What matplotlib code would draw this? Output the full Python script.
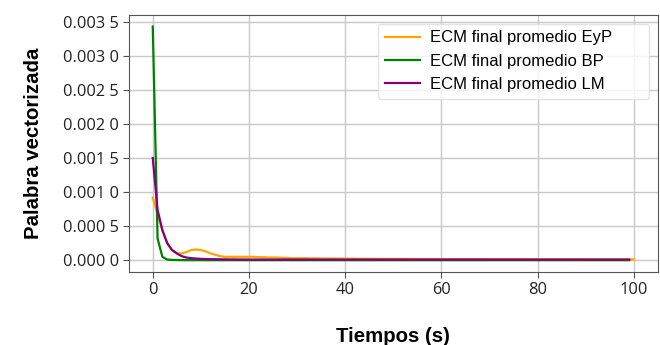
import numpy as np
import matplotlib
matplotlib.use('Agg')
import matplotlib.pyplot as plt
from matplotlib.ticker import FuncFormatter

# tiempo (s)
t_eyp = np.arange(0, 101)
t_bp = np.arange(0, 100)
t_lm = np.arange(0, 100)

# ECM promedio, valores
ecm_eyp = [
    0.00092, 0.00068, 0.00044, 0.00026, 0.00015, 0.00010, 0.00010, 0.00012, 0.00015, 0.000157,
    0.00015, 0.00013, 0.00010, 0.00008, 0.00006, 0.00005, 0.00005, 0.00005, 0.00005, 0.00005,
    0.00005, 0.00005, 0.000045, 0.000045, 0.00004, 0.00004, 0.00004, 0.000035, 0.000035, 0.00003,
    0.00003, 0.00003, 0.00003, 0.000028, 0.000028, 0.000026, 0.000026, 0.000025, 0.000025, 0.000024,
    0.000024, 0.000023, 0.000023, 0.000022, 0.000022, 0.000021, 0.000021, 0.00002, 0.00002, 0.00002,
    0.00002, 0.00002, 0.000019, 0.000019, 0.000019, 0.000018, 0.000018, 0.000018, 0.000018, 0.000017,
    0.000017, 0.000017, 0.000017, 0.000017, 0.000016, 0.000016, 0.000016, 0.000016, 0.000016, 0.000016,
    0.000015, 0.000015, 0.000015, 0.000015, 0.000015, 0.000015, 0.000015, 0.000015, 0.000015, 0.000015,
    0.000014, 0.000014, 0.000014, 0.000014, 0.000014, 0.000014, 0.000014, 0.000014, 0.000014, 0.000014,
    0.000013, 0.000013, 0.000013, 0.000013, 0.000013, 0.000013, 0.000013, 0.000013, 0.000013, 0.000013,
    0.000013,
]
ecm_bp = [
    0.00343, 0.00032, 0.00005, 0.00001, 0.000005, 0.000003, 0.000002, 0.000002, 0.000001, 0.000001,
] + [0.000001] * 90
ecm_lm = [
    0.00150, 0.00074, 0.00044, 0.00025, 0.00015, 0.00010, 0.00006, 0.00004, 0.00003, 0.000025,
    0.00002, 0.000018, 0.000016, 0.000015, 0.000014, 0.000013, 0.000012, 0.000012, 0.000011, 0.000011,
] + [0.00001] * 80

labels = ['ECM final promedio EyP', 'ECM final promedio BP', 'ECM final promedio LM']
colors = ['orange', 'green', 'purple']

fig = plt.figure(figsize=(6.6, 3.45), dpi=100)
ax = fig.add_axes([0.195, 0.212, 0.802, 0.745])

ax.plot(t_eyp, ecm_eyp, color=colors[0], lw=1.6, label=labels[0])
ax.plot(t_bp, ecm_bp, color=colors[1], lw=1.6, label=labels[1])
ax.plot(t_lm, ecm_lm, color=colors[2], lw=1.6, label=labels[2])

ax.set_yticks(np.arange(0, 0.0036, 0.0005))
ax.set_xticks([0, 20, 40, 60, 80, 100])


def fmt(v, pos):
    s = '%.4f' % v
    return s[:-1] + ' ' + s[-1]


ax.yaxis.set_major_formatter(FuncFormatter(fmt))
for lbl in ax.get_xticklabels() + ax.get_yticklabels():
    lbl.set_fontfamily('Open Sans')
    lbl.set_fontsize(11.8)
    lbl.set_color('#222222')

ax.grid(True, color='#c8c8c8', lw=1)
ax.set_axisbelow(True)
for sp in ax.spines.values():
    sp.set_color('#555555')
ax.tick_params(colors='#555555', labelcolor='#222222', length=4, pad=3)

ax.set_xlabel('Tiempos (s)', fontsize=14.7, fontweight='bold', family='Liberation Sans', labelpad=21)
ax.set_ylabel('Palabra vectorizada', fontsize=14.7, fontweight='bold', family='Liberation Sans', labelpad=14)

# legend box is wider than its text in the reference -> expand mode
leg = ax.legend(loc='upper left', bbox_to_anchor=(0.471, 0.0, 0.512, 0.965), mode='expand',
                borderaxespad=0, prop={'family': 'Liberation Sans', 'size': 12},
                framealpha=0.8, labelspacing=0.5, handlelength=2.1, handletextpad=0.6,
                borderpad=0.4)
leg.get_frame().set_edgecolor('#dddddd')

fig.savefig('out.png', dpi=100)
